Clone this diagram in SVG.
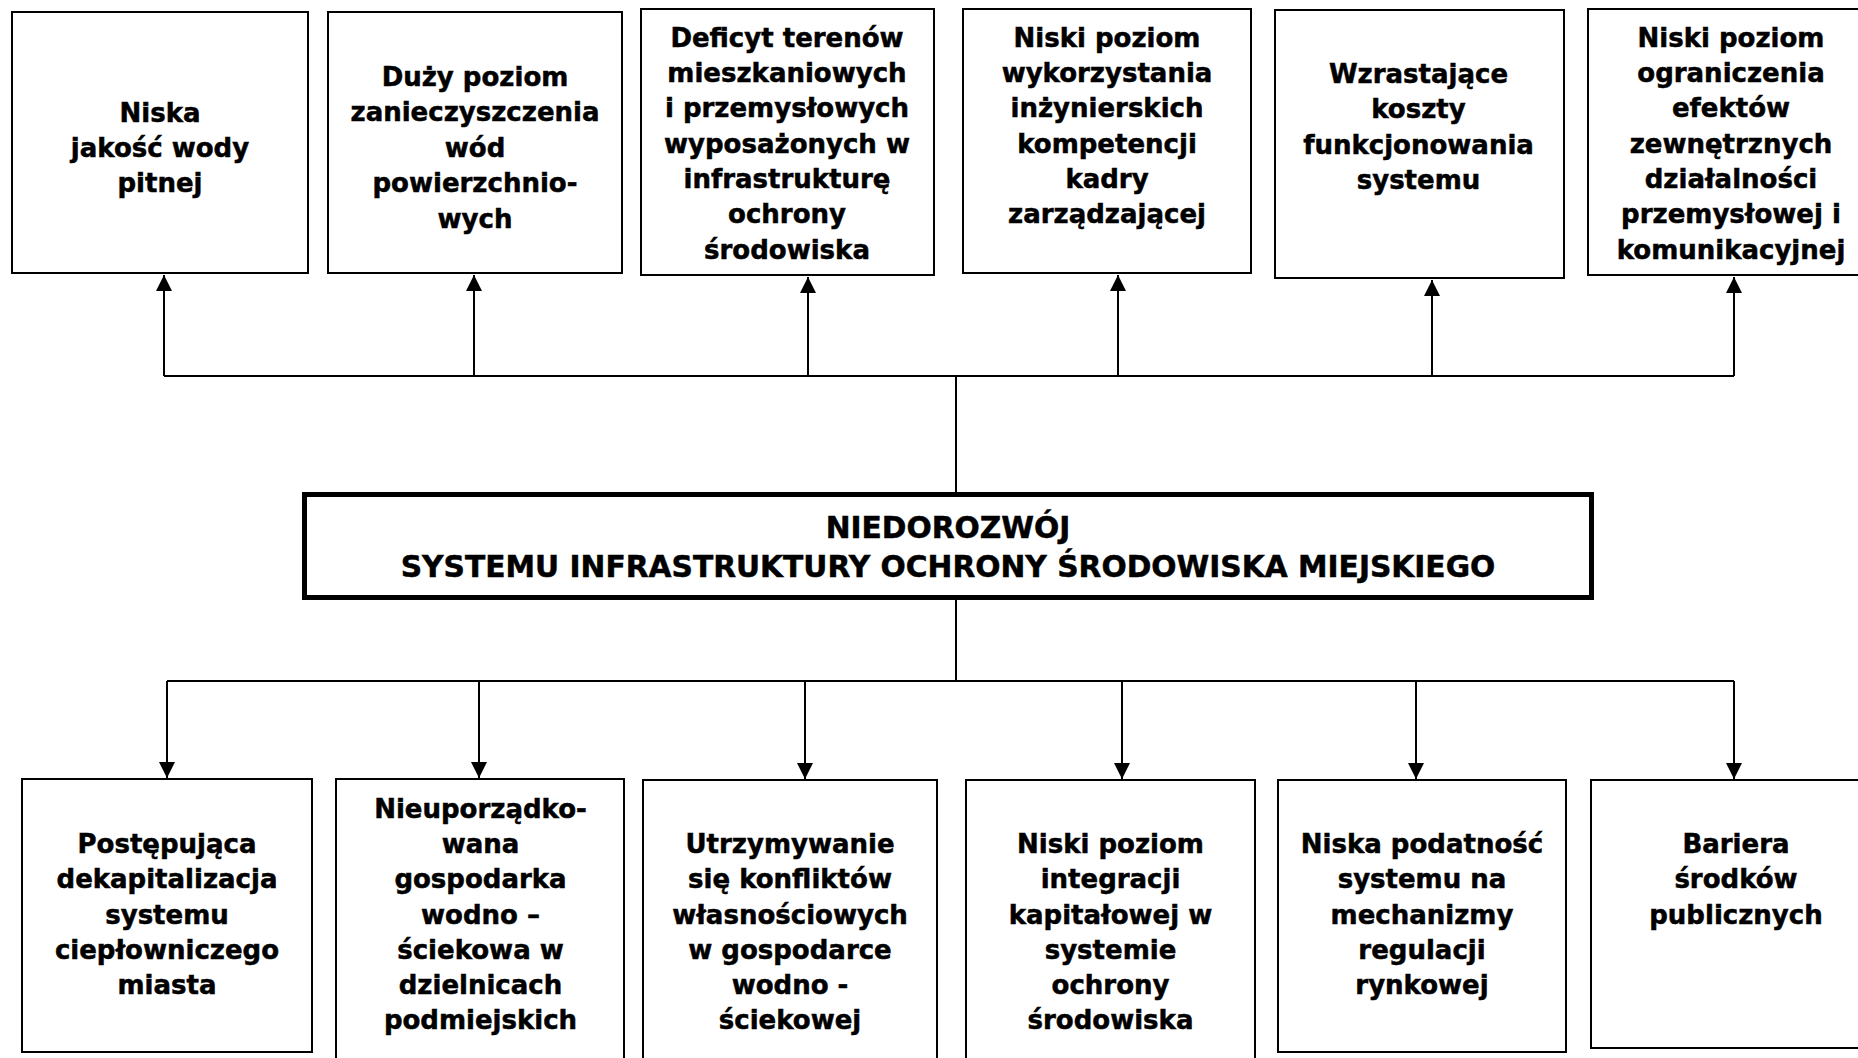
<svg xmlns="http://www.w3.org/2000/svg" width="1858" height="1058" viewBox="0 0 1858 1058">
<style>
.box{fill:#fff;stroke:#000;stroke-width:2}
.main{fill:#fff;stroke:#000;stroke-width:5}
.t{font-family:"DejaVu Sans","Liberation Sans",sans-serif;font-weight:bold;font-size:26px;fill:#000;stroke:#000;stroke-width:0.5;text-anchor:middle}
.tm{font-family:"DejaVu Sans","Liberation Sans",sans-serif;font-weight:bold;font-size:29.7px;fill:#000;stroke:#000;stroke-width:0.5;text-anchor:middle}
.c{fill:none;stroke:#000;stroke-width:2}
</style>
<defs>
<marker id="ah" markerUnits="userSpaceOnUse" markerWidth="17" markerHeight="17" viewBox="0 0 17 17" refX="16" refY="8.5" orient="auto">
<path d="M0,0.5 L16,8.5 L0,16.5 z" fill="#000"/>
</marker>
</defs>
<rect width="1858" height="1058" fill="#fff"/>

<g id="connectors">
<line class="c" x1="164" y1="376" x2="1734" y2="376"/>
<line class="c" x1="956" y1="376" x2="956" y2="492"/>
<line class="c" x1="164" y1="376" x2="164" y2="275" marker-end="url(#ah)"/>
<line class="c" x1="474" y1="376" x2="474" y2="275" marker-end="url(#ah)"/>
<line class="c" x1="808" y1="376" x2="808" y2="277" marker-end="url(#ah)"/>
<line class="c" x1="1118" y1="376" x2="1118" y2="275" marker-end="url(#ah)"/>
<line class="c" x1="1432" y1="376" x2="1432" y2="280" marker-end="url(#ah)"/>
<line class="c" x1="1734" y1="376" x2="1734" y2="277" marker-end="url(#ah)"/>
<line class="c" x1="956" y1="600" x2="956" y2="681"/>
<line class="c" x1="167" y1="681" x2="1734" y2="681"/>
<line class="c" x1="167" y1="681" x2="167" y2="778" marker-end="url(#ah)"/>
<line class="c" x1="479" y1="681" x2="479" y2="778" marker-end="url(#ah)"/>
<line class="c" x1="805" y1="681" x2="805" y2="779" marker-end="url(#ah)"/>
<line class="c" x1="1122" y1="681" x2="1122" y2="779" marker-end="url(#ah)"/>
<line class="c" x1="1416" y1="681" x2="1416" y2="779" marker-end="url(#ah)"/>
<line class="c" x1="1734" y1="681" x2="1734" y2="779" marker-end="url(#ah)"/>
</g>

<g id="top1">
<rect class="box" x="12" y="12" width="296" height="261"/>
<text class="t"><tspan x="160" y="121.7">Niska</tspan><tspan x="160" y="156.7">jakość wody</tspan><tspan x="160" y="191.7">pitnej</tspan></text>
</g>
<g id="top2">
<rect class="box" x="328" y="12" width="294" height="261"/>
<text class="t"><tspan x="475" y="86">Duży poziom</tspan><tspan x="475" y="121.4">zanieczyszczenia</tspan><tspan x="475" y="156.8">wód</tspan><tspan x="475" y="192.2">powierzchnio-</tspan><tspan x="475" y="227.6">wych</tspan></text>
</g>
<g id="top3">
<rect class="box" x="641" y="9" width="293" height="266"/>
<text class="t"><tspan x="787" y="46.7">Deficyt terenów</tspan><tspan x="787" y="82">mieszkaniowych</tspan><tspan x="787" y="117.3">i przemysłowych</tspan><tspan x="787" y="152.6">wyposażonych w</tspan><tspan x="787" y="187.9">infrastrukturę</tspan><tspan x="787" y="223.2">ochrony</tspan><tspan x="787" y="258.5">środowiska</tspan></text>
</g>
<g id="top4">
<rect class="box" x="963" y="9" width="288" height="264"/>
<text class="t"><tspan x="1107" y="46.7">Niski poziom</tspan><tspan x="1107" y="82">wykorzystania</tspan><tspan x="1107" y="117.3">inżynierskich</tspan><tspan x="1107" y="152.6">kompetencji</tspan><tspan x="1107" y="187.9">kadry</tspan><tspan x="1107" y="223.2">zarządzającej</tspan></text>
</g>
<g id="top5">
<rect class="box" x="1275" y="10" width="289" height="268"/>
<text class="t"><tspan x="1418.5" y="83">Wzrastające</tspan><tspan x="1418.5" y="118.3">koszty</tspan><tspan x="1418.5" y="153.6">funkcjonowania</tspan><tspan x="1418.5" y="188.9">systemu</tspan></text>
</g>
<g id="top6">
<rect class="box" x="1588" y="9" width="290" height="266"/>
<text class="t"><tspan x="1731" y="46.7">Niski poziom</tspan><tspan x="1731" y="82">ograniczenia</tspan><tspan x="1731" y="117.3">efektów</tspan><tspan x="1731" y="152.6">zewnętrznych</tspan><tspan x="1731" y="187.9">działalności</tspan><tspan x="1731" y="223.2">przemysłowej i</tspan><tspan x="1731" y="258.5">komunikacyjnej</tspan></text>
</g>

<g id="main">
<rect class="main" x="304.5" y="494.5" width="1287" height="103"/>
<text class="tm"><tspan x="948" y="538.3">NIEDOROZWÓJ</tspan><tspan x="948" y="577.3">SYSTEMU INFRASTRUKTURY OCHRONY ŚRODOWISKA MIEJSKIEGO</tspan></text>
</g>

<g id="bottom1">
<rect class="box" x="22" y="779" width="290" height="273"/>
<text class="t"><tspan x="167" y="853.3">Postępująca</tspan><tspan x="167" y="888.4">dekapitalizacja</tspan><tspan x="167" y="923.5">systemu</tspan><tspan x="167" y="958.6">ciepłowniczego</tspan><tspan x="167" y="993.7">miasta</tspan></text>
</g>
<g id="bottom2">
<rect class="box" x="336" y="779" width="288" height="300"/>
<text class="t"><tspan x="480.5" y="818.2">Nieuporządko-</tspan><tspan x="480.5" y="853.3">wana</tspan><tspan x="480.5" y="888.4">gospodarka</tspan><tspan x="480.5" y="923.5">wodno –</tspan><tspan x="480.5" y="958.6">ściekowa w</tspan><tspan x="480.5" y="993.7">dzielnicach</tspan><tspan x="480.5" y="1028.8">podmiejskich</tspan></text>
</g>
<g id="bottom3">
<rect class="box" x="643" y="780" width="294" height="300"/>
<text class="t"><tspan x="790" y="853.3">Utrzymywanie</tspan><tspan x="790" y="888.4">się konfliktów</tspan><tspan x="790" y="923.5">własnościowych</tspan><tspan x="790" y="958.6">w gospodarce</tspan><tspan x="790" y="993.7">wodno -</tspan><tspan x="790" y="1028.8">ściekowej</tspan></text>
</g>
<g id="bottom4">
<rect class="box" x="966" y="780" width="289" height="300"/>
<text class="t"><tspan x="1110.5" y="853.3">Niski poziom</tspan><tspan x="1110.5" y="888.4">integracji</tspan><tspan x="1110.5" y="923.5">kapitałowej w</tspan><tspan x="1110.5" y="958.6">systemie</tspan><tspan x="1110.5" y="993.7">ochrony</tspan><tspan x="1110.5" y="1028.8">środowiska</tspan></text>
</g>
<g id="bottom5">
<rect class="box" x="1278" y="780" width="288" height="272"/>
<text class="t"><tspan x="1422" y="853.3">Niska podatność</tspan><tspan x="1422" y="888.4">systemu na</tspan><tspan x="1422" y="923.5">mechanizmy</tspan><tspan x="1422" y="958.6">regulacji</tspan><tspan x="1422" y="993.7">rynkowej</tspan></text>
</g>
<g id="bottom6">
<rect class="box" x="1591" y="780" width="290" height="268"/>
<text class="t"><tspan x="1736" y="853.3">Bariera</tspan><tspan x="1736" y="888.4">środków</tspan><tspan x="1736" y="923.5">publicznych</tspan></text>
</g>
</svg>
